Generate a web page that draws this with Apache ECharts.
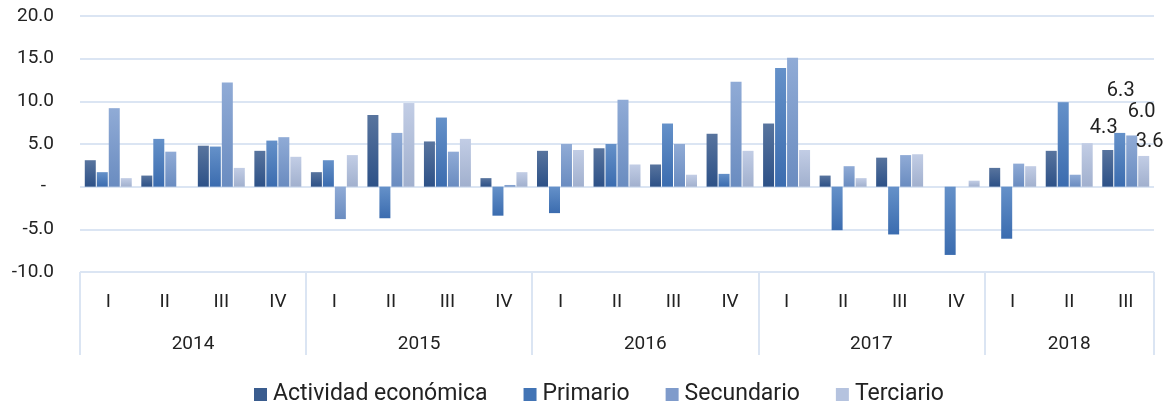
<!DOCTYPE html>
<html>
<head>
<meta charset="utf-8">
<script src="https://cdn.jsdelivr.net/npm/echarts@6/dist/echarts.min.js"></script>
<style>
  html, body { margin: 0; padding: 0; background: #fff; }
  #chart { width: 1168px; height: 405px; }
</style>
</head>
<body>
<div id="chart"></div>
<script>
// trimestres y años
const quarters = ['I', 'II', 'III', 'IV', 'I', 'II', 'III', 'IV', 'I', 'II', 'III', 'IV',
  'I', 'II', 'III', 'IV', 'I', 'II', 'III'];
const years = ['2014', '2015', '2016', '2017', '2018'];
const yearQuarters = [4, 4, 4, 4, 3];

const actividad = [3.1, 1.3, 4.8, 4.2, 1.7, 8.4, 5.3, 1.0, 4.2, 4.5, 2.6, 6.2, 7.4, 1.3, 3.4, 0, 2.2, 4.2, 4.3];
const primario = [1.7, 5.6, 4.7, 5.4, 3.1, -3.7, 8.1, -3.4, -3.1, 5.0, 7.4, 1.5, 13.9, -5.1, -5.6, -8.0, -6.1, 9.9, 6.3];
const secundario = [9.2, 4.1, 12.2, 5.8, -3.8, 6.3, 4.1, 0.2, 5.0, 10.2, 5.0, 12.3, 15.1, 2.4, 3.7, 0, 2.7, 1.4, 6.0];
const terciario = [1.0, 0, 2.2, 3.5, 3.7, 9.8, 5.6, 1.7, 4.3, 2.6, 1.4, 4.2, 4.3, 1.0, 3.8, 0.7, 2.4, 5.1, 3.6];

const FONT = 'Roboto';
const GRID_COLOR = '#dbe5f3';

// eje de años: puntos cada medio trimestre (boundaryGap false)
let yearAxisData = [];
let yearTicks = [];
let pos = 0;
for (let k = 0; k <= quarters.length * 2; k++) yearAxisData.push('');
yearTicks.push(0);
years.forEach((y, i) => {
  yearAxisData[pos * 2 + yearQuarters[i]] = y;
  pos += yearQuarters[i];
  yearTicks.push(pos * 2);
});

const grad = (top, bottom) => new echarts.graphic.LinearGradient(0, 0, 0, 1, [
  { offset: 0, color: top },
  { offset: 1, color: bottom }
]);

// etiquetas solo para el último trimestre
let lastLabel = (arr, offset) => arr.map((v, i) => {
  if (i !== arr.length - 1) return v;
  return {
    value: v,
    label: {
      show: true,
      position: 'top',
      offset: offset,
      formatter: (p) => p.value.toFixed(1),
      fontFamily: FONT,
      fontSize: 20,
      color: '#222'
    }
  };
});

let mkSeries = (name, data, top, bottom, offset) => ({
  name,
  type: 'bar',
  xAxisIndex: 0,
  barWidth: 11,
  barGap: '9%',
  data: lastLabel(data, offset),
  itemStyle: { color: grad(top, bottom) },
  emphasis: { disabled: true }
});

const chart = echarts.init(document.getElementById('chart'));

const option = {
  animation: false,
  grid: { left: 80, right: 14, top: 16, bottom: 133, containLabel: false },
  color: ['#3a5c8e', '#4274b5', '#7f9bcb', '#b5c3df'],
  legend: {
    top: 378,
    left: 249,
    itemWidth: 13,
    itemHeight: 13,
    itemGap: 36,
    icon: 'rect',
    textStyle: { fontFamily: FONT, fontSize: 23, color: '#222', padding: [0, 0, 0, 1] },
    data: [
      { name: 'Actividad económica', itemStyle: { color: '#3a5c8e' } },
      { name: 'Primario', itemStyle: { color: '#4274b5' } },
      { name: 'Secundario', itemStyle: { color: '#7f9bcb' } },
      { name: 'Terciario', itemStyle: { color: '#b5c3df' } }
    ]
  },
  xAxis: [
    {
      type: 'category',
      data: quarters,
      position: 'bottom',
      axisLine: { show: false },
      axisTick: { show: false },
      axisLabel: { interval: 0, margin: 21, fontFamily: FONT, fontSize: 19, color: '#222' }
    },
    {
      type: 'category',
      data: yearAxisData,
      boundaryGap: false,
      position: 'bottom',
      axisLine: { show: false },
      axisTick: {
        show: true,
        length: 83,
        interval: (idx) => yearTicks.includes(idx),
        lineStyle: { color: GRID_COLOR, width: 2 }
      },
      axisLabel: { interval: 0, margin: 63, fontFamily: FONT, fontSize: 19, color: '#222' }
    }
  ],
  yAxis: {
    type: 'value',
    min: -10,
    max: 20,
    interval: 5,
    axisLine: { show: false },
    axisTick: { show: false },
    splitLine: { lineStyle: { color: GRID_COLOR, width: 2 } },
    axisLabel: {
      margin: 26,
      fontFamily: FONT,
      fontSize: 19,
      color: '#222',
      formatter: (v) => v === 0 ? '{z|-}' : v.toFixed(1),
      rich: { z: { fontFamily: FONT, fontSize: 19, color: '#222', padding: [0, 8, 0, 0] } }
    }
  },
  series: [
    mkSeries('Actividad económica', actividad, '#58749e', '#2d5187', [-4, -7]),
    mkSeries('Primario', primario, '#6591c9', '#3b6caf', [1, -27]),
    mkSeries('Secundario', secundario, '#90abd6', '#6a8cc0', [10, -8]),
    mkSeries('Terciario', terciario, '#c2cde5', '#a1b0ce', [6, 1])
  ]
};

chart.setOption(option);
</script>
</body>
</html>
